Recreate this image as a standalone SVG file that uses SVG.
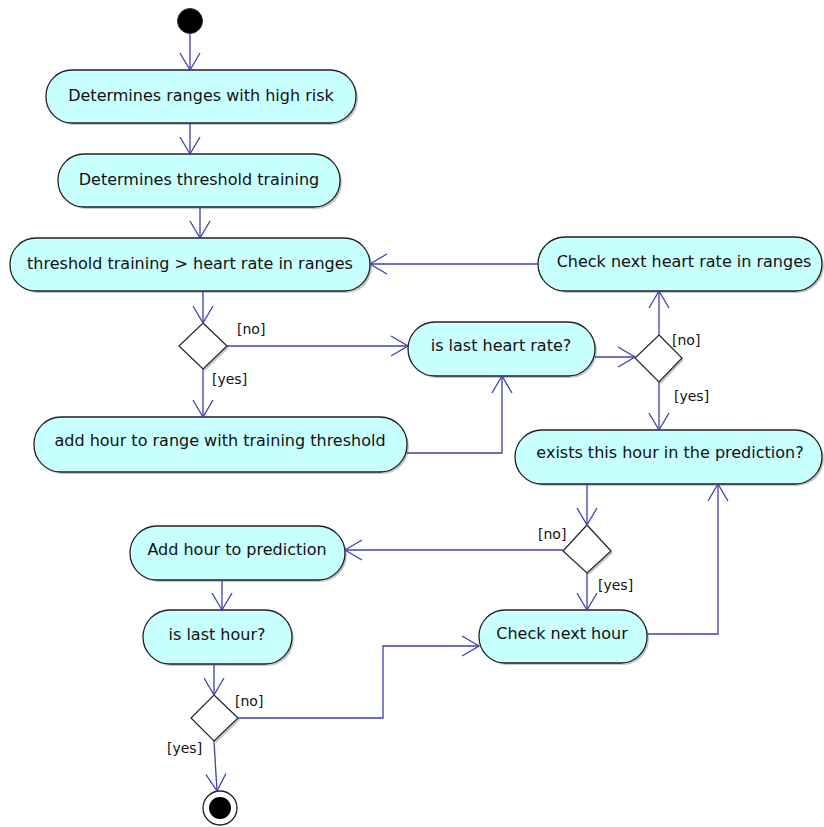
<svg xmlns="http://www.w3.org/2000/svg" width="824" height="827" viewBox="0 0 824 827">
<defs>
<style>
.act rect.s{fill:#a0a0a0;opacity:0.6}
.act rect.b{fill:#c8ffff;stroke:#222;stroke-width:1.3}
.act text{font-family:"DejaVu Sans","Liberation Sans",Arial,sans-serif;font-size:16px;fill:#111;text-anchor:middle}
.dec polygon.b{fill:#fff;stroke:#222;stroke-width:1.2}
.dec polygon.s{fill:#a0a0a0;opacity:0.6}
.lbl{font-family:"DejaVu Sans","Liberation Sans",Arial,sans-serif;font-size:14px;fill:#111}
.conn path{fill:none;stroke:#4040b0;stroke-width:1.3}
</style>
<marker id="arr" viewBox="0 0 20 22" refX="18" refY="11" markerWidth="20" markerHeight="22" markerUnits="userSpaceOnUse" orient="auto">
<path d="M1,1 L18,11 L1,21" fill="none" stroke="#4040b0" stroke-width="1.3"/>
</marker>
</defs>
<rect width="824" height="827" fill="#fff"/>

<g id="start"><circle cx="190" cy="21" r="12.5" fill="#000" stroke="#333"/></g>

<g id="n1" class="act"><rect class="s" x="48" y="72" width="310" height="53" rx="26"/><rect class="b" x="46" y="70" width="310" height="53" rx="26"/><text x="201" y="101">Determines ranges with high risk</text></g>
<g id="n2" class="act"><rect class="s" x="60" y="156" width="282" height="53" rx="26"/><rect class="b" x="58" y="154" width="282" height="53" rx="26"/><text x="199" y="185">Determines threshold training</text></g>
<g id="n3" class="act"><rect class="s" x="12" y="240" width="360" height="53" rx="26"/><rect class="b" x="10" y="238" width="360" height="53" rx="26"/><text x="190" y="269">threshold training &gt; heart rate in ranges</text></g>
<g id="n4" class="act"><rect class="s" x="540" y="239" width="284" height="54" rx="27"/><rect class="b" x="538" y="237" width="284" height="54" rx="27"/><text x="684" y="267">Check next heart rate in ranges</text></g>
<g id="n5" class="act"><rect class="s" x="410" y="324" width="187" height="54" rx="27"/><rect class="b" x="408" y="322" width="187" height="54" rx="27"/><text x="501" y="351">is last heart rate?</text></g>
<g id="n6" class="act"><rect class="s" x="36" y="419" width="373" height="55" rx="27"/><rect class="b" x="34" y="417" width="373" height="55" rx="27"/><text x="220" y="446">add hour to range with training threshold</text></g>
<g id="n7" class="act"><rect class="s" x="517" y="432" width="307" height="54" rx="27"/><rect class="b" x="515" y="430" width="307" height="54" rx="27"/><text x="670" y="458">exists this hour in the prediction?</text></g>
<g id="n8" class="act"><rect class="s" x="132" y="528" width="215" height="54" rx="27"/><rect class="b" x="130" y="526" width="215" height="54" rx="27"/><text x="237" y="555">Add hour to prediction</text></g>
<g id="n9" class="act"><rect class="s" x="481" y="612" width="168" height="53" rx="26"/><rect class="b" x="479" y="610" width="168" height="53" rx="26"/><text x="562" y="639">Check next hour</text></g>
<g id="n10" class="act"><rect class="s" x="145" y="612" width="149" height="54" rx="27"/><rect class="b" x="143" y="610" width="149" height="54" rx="27"/><text x="217" y="640">is last hour?</text></g>

<g id="d1" class="dec"><polygon class="s" points="205,325 229,348 205,371 181,348"/><polygon class="b" points="203,323 227,346 203,369 179,346"/></g>
<g id="d2" class="dec"><polygon class="s" points="661,337 684,360 661,384 637,360"/><polygon class="b" points="659,335 682,358 659,382 635,358"/></g>
<g id="d3" class="dec"><polygon class="s" points="589,527 613,553 589,575 565,553"/><polygon class="b" points="587,525 611,551 587,573 563,551"/></g>
<g id="d4" class="dec"><polygon class="s" points="216,697 240,720 216,743 193,720"/><polygon class="b" points="214,695 238,718 214,741 191,718"/></g>

<g id="end"><circle cx="220" cy="808" r="17" fill="#fff" stroke="#222" stroke-width="1.3"/><circle cx="220" cy="808" r="11" fill="#000"/></g>

<g id="connectors" class="conn">
<path d="M190,33 V70" marker-end="url(#arr)"/>
<path d="M190,123 V154" marker-end="url(#arr)"/>
<path d="M200,207 V238" marker-end="url(#arr)"/>
<path d="M538,264 H370" marker-end="url(#arr)"/>
<path d="M203,291 V323" marker-end="url(#arr)"/>
<path d="M227,346 H408" marker-end="url(#arr)"/>
<path d="M203,369 V417" marker-end="url(#arr)"/>
<path d="M407,453 H502 V376" marker-end="url(#arr)"/>
<path d="M595,357 H635" marker-end="url(#arr)"/>
<path d="M659,335 V291" marker-end="url(#arr)"/>
<path d="M659,382 V430" marker-end="url(#arr)"/>
<path d="M587,484 V525" marker-end="url(#arr)"/>
<path d="M563,550 H345" marker-end="url(#arr)"/>
<path d="M587,573 V610" marker-end="url(#arr)"/>
<path d="M647,634 H718 V484" marker-end="url(#arr)"/>
<path d="M222,580 V610" marker-end="url(#arr)"/>
<path d="M214,664 V695" marker-end="url(#arr)"/>
<path d="M238,718 H383 V646 H479" marker-end="url(#arr)"/>
<path d="M214,741 L217,791" marker-end="url(#arr)"/>
</g>

<g id="labels">
<text class="lbl" x="237" y="334">[no]</text>
<text class="lbl" x="212" y="384">[yes]</text>
<text class="lbl" x="672" y="345">[no]</text>
<text class="lbl" x="674" y="401">[yes]</text>
<text class="lbl" x="538" y="539">[no]</text>
<text class="lbl" x="598" y="590">[yes]</text>
<text class="lbl" x="235" y="706">[no]</text>
<text class="lbl" x="167" y="753">[yes]</text>
</g>
</svg>
